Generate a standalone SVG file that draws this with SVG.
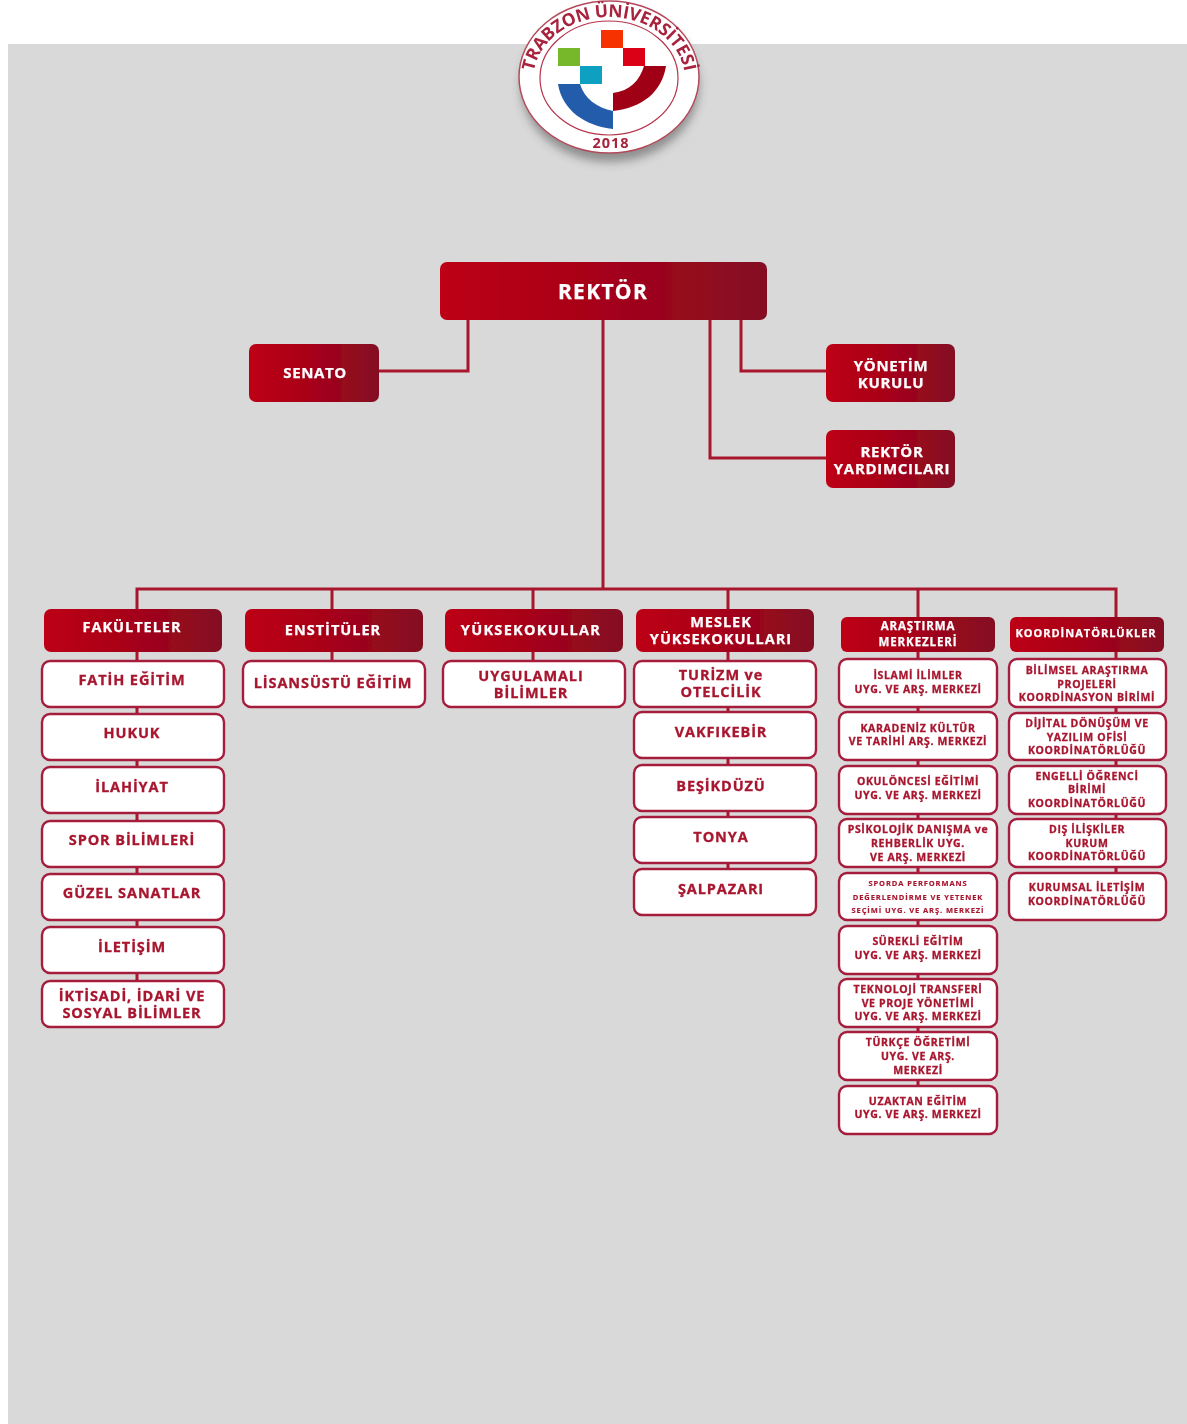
<svg xmlns="http://www.w3.org/2000/svg" width="1187" height="1424" viewBox="0 0 1187 1424">
<style>
text{font-family:"Open Sans","Liberation Sans",sans-serif;font-weight:700;text-anchor:middle}
.h rect{fill:url(#g)}
.h text{fill:#fff;stroke:#fff;stroke-width:.25px}
.b rect{fill:#fff;stroke:#a61d3c;stroke-width:2.4}
.b text{fill:#a8152f;stroke:#a8152f;stroke-width:.3px}
.c{fill:none;stroke:#a8132f;stroke-width:3}
.s14 text{font-size:14.5px;letter-spacing:.9px}
.s105 text{font-size:10.5px;letter-spacing:.65px}
.s105 .s7 text{font-size:7.5px;letter-spacing:.9px;stroke-width:.15px}
</style>
<defs>
<linearGradient id="g"><stop offset="0" stop-color="#bd0018"/><stop offset=".45" stop-color="#a80019"/><stop offset="1" stop-color="#840e22"/></linearGradient>
<filter id="bl" x="-5%" y="-5%" width="110%" height="110%"><feGaussianBlur stdDeviation="0.55"/></filter>
<filter id="sh" x="-30%" y="-30%" width="160%" height="160%"><feGaussianBlur stdDeviation="5"/></filter>
<path id="arc" d="M533 80A76 63 0 0 1 685 80"/>
</defs>
<rect width="1187" height="1424" fill="#fff"/>
<rect x="8" y="44" width="1179" height="1380" fill="#d9d9d9"/>
<g filter="url(#bl)">
<g id="logo">
<ellipse cx="610" cy="86" rx="89" ry="76" fill="#666" opacity=".65" filter="url(#sh)"/>
<ellipse cx="609" cy="77" rx="90" ry="76" fill="#fff" stroke="#b54a5c" stroke-width="1.5"/>
<ellipse cx="609" cy="78" rx="69" ry="57" fill="#fff" stroke="#b5344c" stroke-width="1.2"/>
<rect x="601" y="30" width="22" height="18" fill="#f53200"/>
<rect x="623" y="48" width="22" height="18" fill="#dc0014"/>
<rect x="558" y="48" width="22" height="18" fill="#76b82a"/>
<rect x="580" y="66" width="22" height="18" fill="#0fa0c0"/>
<path d="M558 84H580C584 98 597 108 613 111V129C585 126 562 110 558 84Z" fill="#235cab"/>
<path d="M666 66H644C640 80 630 91 613 93V111C642 108 662 92 666 66Z" fill="#a00018"/>
<text font-size="17.5" fill="#a8233c" letter-spacing="-.2"><textPath href="#arc" startOffset="50%">TRABZON ÜNİVERSİTESİ</textPath></text>
<text x="611" y="148" font-size="14.5" fill="#a8233c" letter-spacing="1">2018</text>
</g>
<g id="connectors">
<path class="c" d="M603 320V589M468 320V371H379M741 320V371H826M710 320V458H826M137 611V589H1116V617M332 589V609M533 589V609M728 589V609M918 589V617"/>
<path class="c" d="M137 652V981M332 652V661M533 652V661M728 652V869M918 652V1086M1116 652V873"/>
</g>
<g class="h">
<g id="rektor"><rect x="440" y="262" width="327" height="58" rx="7"/><text x="603" y="299" font-size="21" letter-spacing="1.3">REKTÖR</text></g>
<g id="senato"><rect x="249" y="344" width="130" height="58" rx="7"/><text x="315" y="378" font-size="15" letter-spacing=".6">SENATO</text></g>
<g id="yonetim"><rect x="826" y="344" width="129" height="58" rx="7"/><text x="891" y="371" font-size="15" letter-spacing=".7">YÖNETİM</text><text x="891" y="388" font-size="15" letter-spacing=".7">KURULU</text></g>
<g id="yardimcilar"><rect x="826" y="430" width="129" height="58" rx="7"/><text x="892" y="457" font-size="15" letter-spacing=".7">REKTÖR</text><text x="892" y="474" font-size="15" letter-spacing=".7">YARDIMCILARI</text></g>
<g id="fakulteler"><rect x="44" y="609" width="178" height="43" rx="7"/><text x="132" y="632" font-size="14.5" letter-spacing="1">FAKÜLTELER</text></g>
<g id="enstituler"><rect x="245" y="609" width="178" height="43" rx="7"/><text x="333" y="635" font-size="14.5" letter-spacing="1">ENSTİTÜLER</text></g>
<g id="yuksekokullar"><rect x="445" y="609" width="178" height="43" rx="7"/><text x="531" y="635" font-size="14.5" letter-spacing="1.3">YÜKSEKOKULLAR</text></g>
<g id="meslek"><rect x="636" y="609" width="178" height="43" rx="7"/><text x="721" y="627" font-size="14.5" letter-spacing="1">MESLEK</text><text x="721" y="644" font-size="14.5" letter-spacing="1">YÜKSEKOKULLARI</text></g>
<g id="arastirma"><rect x="841" y="617" width="154" height="35" rx="6"/><text x="918" y="630" font-size="11.5" letter-spacing=".9">ARAŞTIRMA</text><text x="918" y="646" font-size="11.5" letter-spacing=".9">MERKEZLERİ</text></g>
<g id="koordinatorlukler"><rect x="1010" y="617" width="154" height="35" rx="6"/><text x="1086" y="637" font-size="11" letter-spacing="1">KOORDİNATÖRLÜKLER</text></g>
</g>
<g class="b s14">
<g id="f1"><rect x="42" y="661" width="182" height="46" rx="8"/><text x="132" y="685">FATİH EĞİTİM</text></g>
<g id="f2"><rect x="42" y="714" width="182" height="46" rx="8"/><text x="132" y="738">HUKUK</text></g>
<g id="f3"><rect x="42" y="767" width="182" height="46" rx="8"/><text x="132" y="792">İLAHİYAT</text></g>
<g id="f4"><rect x="42" y="821" width="182" height="46" rx="8"/><text x="132" y="845">SPOR BİLİMLERİ</text></g>
<g id="f5"><rect x="42" y="874" width="182" height="46" rx="8"/><text x="132" y="898">GÜZEL SANATLAR</text></g>
<g id="f6"><rect x="42" y="927" width="182" height="46" rx="8"/><text x="132" y="952">İLETİŞİM</text></g>
<g id="f7"><rect x="42" y="981" width="182" height="46" rx="8"/><text x="132" y="1001">İKTİSADİ, İDARİ VE</text><text x="132" y="1018">SOSYAL BİLİMLER</text></g>
<g id="e1"><rect x="243" y="661" width="182" height="46" rx="8"/><text x="333" y="688">LİSANSÜSTÜ EĞİTİM</text></g>
<g id="y1"><rect x="443" y="661" width="182" height="46" rx="8"/><text x="531" y="681">UYGULAMALI</text><text x="531" y="698">BİLİMLER</text></g>
<g id="m1"><rect x="634" y="661" width="182" height="46" rx="8"/><text x="721" y="680">TURİZM ve</text><text x="721" y="697">OTELCİLİK</text></g>
<g id="m2"><rect x="634" y="712" width="182" height="46" rx="8"/><text x="721" y="737">VAKFIKEBİR</text></g>
<g id="m3"><rect x="634" y="765" width="182" height="46" rx="8"/><text x="721" y="791">BEŞİKDÜZÜ</text></g>
<g id="m4"><rect x="634" y="817" width="182" height="46" rx="8"/><text x="721" y="842">TONYA</text></g>
<g id="m5"><rect x="634" y="869" width="182" height="46" rx="8"/><text x="721" y="894">ŞALPAZARI</text></g>
</g>
<g class="b s105">
<g id="a1"><rect x="839" y="659" width="158" height="48" rx="8"/><text x="918" y="679">İSLAMİ İLİMLER</text><text x="918" y="693">UYG. VE ARŞ. MERKEZİ</text></g>
<g id="a2"><rect x="839" y="712" width="158" height="48" rx="8"/><text x="918" y="732">KARADENİZ KÜLTÜR</text><text x="918" y="745">VE TARİHİ ARŞ. MERKEZİ</text></g>
<g id="a3"><rect x="839" y="766" width="158" height="48" rx="8"/><text x="918" y="785">OKULÖNCESİ EĞİTİMİ</text><text x="918" y="799">UYG. VE ARŞ. MERKEZİ</text></g>
<g id="a4"><rect x="839" y="819" width="158" height="48" rx="8"/><text x="918" y="833">PSİKOLOJİK DANIŞMA ve</text><text x="918" y="847">REHBERLİK UYG.</text><text x="918" y="861">VE ARŞ. MERKEZİ</text></g>
<g id="a5" class="s7"><rect x="839" y="873" width="158" height="47" rx="8"/><text x="918" y="886">SPORDA PERFORMANS</text><text x="918" y="900">DEĞERLENDİRME VE YETENEK</text><text x="918" y="913">SEÇİMİ UYG. VE ARŞ. MERKEZİ</text></g>
<g id="a6"><rect x="839" y="926" width="158" height="48" rx="8"/><text x="918" y="945">SÜREKLİ EĞİTİM</text><text x="918" y="959">UYG. VE ARŞ. MERKEZİ</text></g>
<g id="a7"><rect x="839" y="979" width="158" height="48" rx="8"/><text x="918" y="993">TEKNOLOJİ TRANSFERİ</text><text x="918" y="1007">VE PROJE YÖNETİMİ</text><text x="918" y="1020">UYG. VE ARŞ. MERKEZİ</text></g>
<g id="a8"><rect x="839" y="1032" width="158" height="48" rx="8"/><text x="918" y="1046">TÜRKÇE ÖĞRETİMİ</text><text x="918" y="1060">UYG. VE ARŞ.</text><text x="918" y="1074">MERKEZİ</text></g>
<g id="a9"><rect x="839" y="1086" width="158" height="48" rx="8"/><text x="918" y="1105">UZAKTAN EĞİTİM</text><text x="918" y="1118">UYG. VE ARŞ. MERKEZİ</text></g>
<g id="k1"><rect x="1009" y="659" width="157" height="48" rx="8"/><text x="1087" y="674">BİLİMSEL ARAŞTIRMA</text><text x="1087" y="688">PROJELERİ</text><text x="1087" y="701">KOORDİNASYON BİRİMİ</text></g>
<g id="k2"><rect x="1009" y="713" width="157" height="47" rx="8"/><text x="1087" y="727">DİJİTAL DÖNÜŞÜM VE</text><text x="1087" y="741">YAZILIM OFİSİ</text><text x="1087" y="754">KOORDİNATÖRLÜĞÜ</text></g>
<g id="k3"><rect x="1009" y="766" width="157" height="48" rx="8"/><text x="1087" y="780">ENGELLİ ÖĞRENCİ</text><text x="1087" y="793">BİRİMİ</text><text x="1087" y="807">KOORDİNATÖRLÜĞÜ</text></g>
<g id="k4"><rect x="1009" y="819" width="157" height="48" rx="8"/><text x="1087" y="833">DIŞ İLİŞKİLER</text><text x="1087" y="847">KURUM</text><text x="1087" y="860">KOORDİNATÖRLÜĞÜ</text></g>
<g id="k5"><rect x="1009" y="873" width="157" height="47" rx="8"/><text x="1087" y="891">KURUMSAL İLETİŞİM</text><text x="1087" y="905">KOORDİNATÖRLÜĞÜ</text></g>
</g>
</g>
</svg>
